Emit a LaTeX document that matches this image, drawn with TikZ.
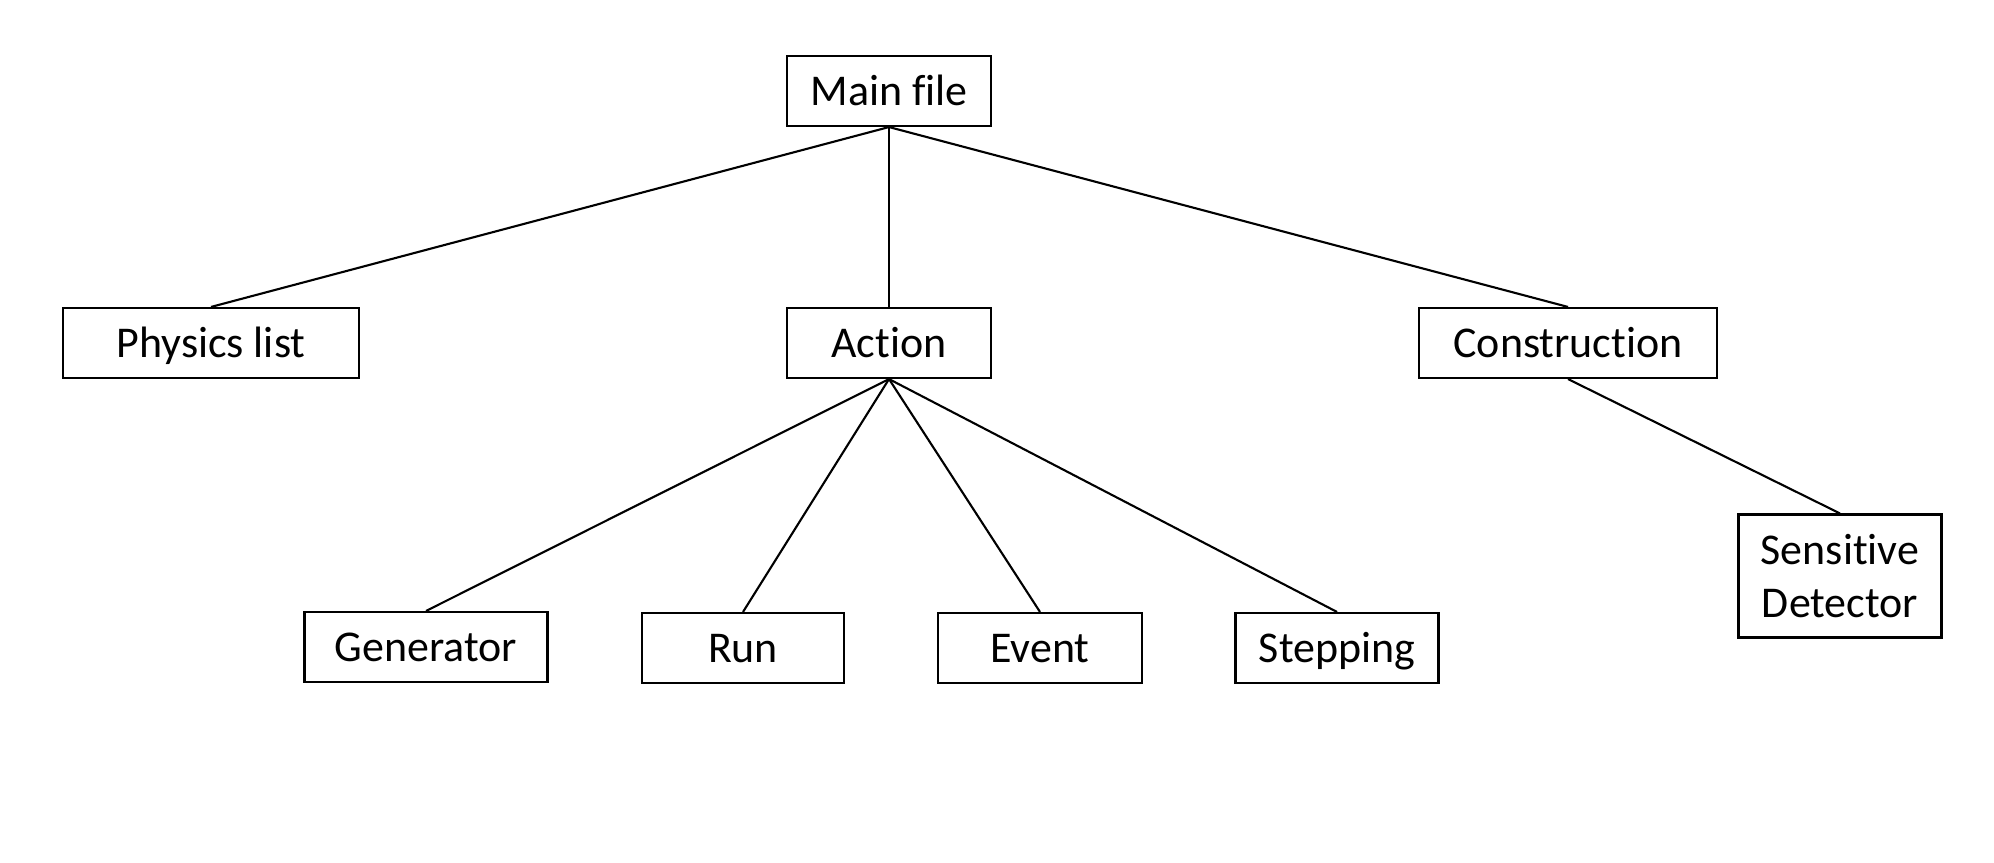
\documentclass[tikz,border=0pt]{standalone}
\usepackage{fontspec}
\setmainfont{Carlito}[Ligatures=NoCommon]
\begin{document}
\begin{tikzpicture}[x=0.02cm,y=-0.02cm,
  box/.style={draw=black,line width=1.2pt,rectangle,inner sep=0pt,align=center,
    font=\fontsize{25}{30}\selectfont},
  one/.style={text height=16pt,text depth=0pt},
  link/.style={line width=1.2pt}]
\useasboundingbox (0,0) rectangle (1994,862);
\fill[white] (0,0) rectangle (1994,862);
\node[box,one,minimum width=204*0.02cm,minimum height=70*0.02cm] (main) at (889,91) {Main file};
\node[box,one,minimum width=296*0.02cm,minimum height=70*0.02cm] (phys) at (211,343) {Physics list};
\node[box,one,minimum width=204*0.02cm,minimum height=70*0.02cm] (act) at (889,343) {Action};
\node[box,one,minimum width=298*0.02cm,minimum height=70*0.02cm] (cons) at (1568,343) {Construction};
\node[box,one,minimum width=243*0.02cm,minimum height=70*0.02cm] (gen) at (426,647) {Generator};
\node[box,one,minimum width=202*0.02cm,minimum height=70*0.02cm] (run) at (743,648) {Run};
\node[box,one,minimum width=204*0.02cm,minimum height=70*0.02cm] (evt) at (1040,648) {Event};
\node[box,one,minimum width=203*0.02cm,minimum height=70*0.02cm] (step) at (1337,648) {Stepping};
\node[box,minimum width=203*0.02cm,minimum height=123*0.02cm] (sens) at (1840,576) {Sensitive\\Detector};
\draw[link] (main.south) -- (phys.north);
\draw[link] (main.south) -- (act.north);
\draw[link] (main.south) -- (cons.north);
\draw[link] (act.south) -- (gen.north);
\draw[link] (act.south) -- (run.north);
\draw[link] (act.south) -- (evt.north);
\draw[link] (act.south) -- (step.north);
\draw[link] (cons.south) -- (sens.north);
\end{tikzpicture}
\end{document}
